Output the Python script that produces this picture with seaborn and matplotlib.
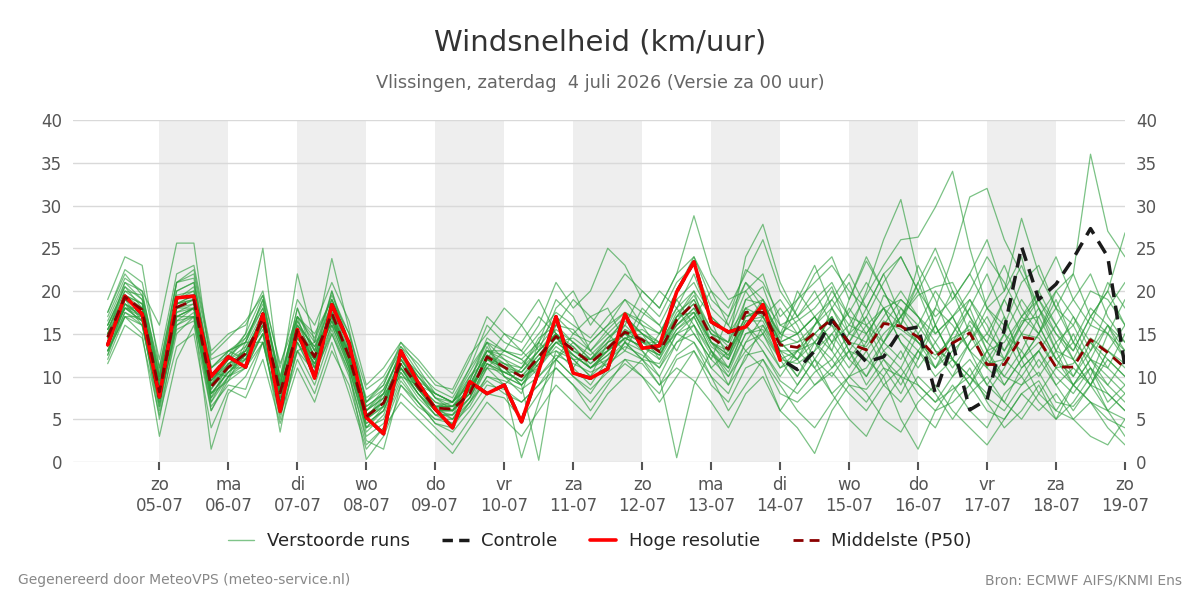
import pandas as pd
import numpy as np
import matplotlib
matplotlib.use("Agg")
import matplotlib.pyplot as plt
from matplotlib.lines import Line2D
import seaborn as sns

# tijdas: 6-uurlijks van za 4 juli 06 uur t/m zo 19 juli 00 uur
tijden = pd.date_range("2026-07-04 06:00", periods=60, freq="6h")

# middelste (P50)
mediaan = [14.6, 19.3, 17.8, 8.2, 18.1, 18.9, 8.8, 11.1, 12.7, 16.8,
           8.1, 15.4, 12.3, 17.4, 12.3, 5.3, 6.9, 11.6, 8.8, 6.3,
           6.2, 8.0, 12.3, 11.1, 10.0, 12.3, 14.7, 13.1, 11.6, 13.3,
           15.2, 14.3, 12.9, 16.6, 18.6, 14.6, 13.2, 17.5, 17.5, 13.7,
           13.4, 15.1, 16.7, 13.9, 13.1, 16.2, 15.9, 14.6, 12.3, 13.9,
           15.1, 11.4, 11.4, 14.6, 14.3, 11.1, 11.1, 14.3, 12.8, 11.0]

# hoge resolutie (loopt tot 14-07)
hoge_res = [13.7, 19.4, 17.3, 7.6, 19.2, 19.4, 10.0, 12.3, 11.1, 17.3,
            5.9, 15.5, 9.8, 18.4, 13.9, 5.2, 3.3, 13.0, 9.3, 6.2,
            4.0, 9.4, 8.0, 9.0, 4.7, 10.7, 17.0, 10.4, 9.8, 10.9,
            17.3, 13.3, 13.6, 19.9, 23.4, 16.4, 15.2, 15.8, 18.4, 11.9]

# controle run
controle = [13.7, 19.4, 17.3, 7.6, 19.2, 19.4, 10.0, 12.3, 11.1, 17.3,
            5.9, 15.5, 9.8, 18.4, 13.9, 5.2, 3.3, 13.0, 9.3, 6.2,
            4.0, 9.4, 8.0, 9.0, 4.7, 10.7, 17.0, 10.4, 9.8, 10.9,
            17.3, 13.3, 13.6, 19.9, 23.4, 16.4, 15.2, 15.8, 18.4, 12.1,
            10.8, 13.0, 16.6, 13.9, 11.7, 12.3, 15.4, 15.8, 8.0, 13.9,
            6.1, 7.3, 15.5, 25.2, 19.0, 20.8, 23.8, 27.3, 24.0, 11.1]

# verstoorde runs (geschat uit de grafiek)
run01 = [16.5, 21.0, 20.0, 16.0, 25.6, 25.6, 11.0, 12.5, 15.0, 19.5,
         9.0, 17.0, 14.0, 19.5, 15.0, 7.0, 8.5, 12.5, 9.5, 8.0,
         7.0, 10.5, 14.0, 12.0, 11.0, 14.5, 16.0, 15.5, 13.0, 15.5,
         17.5, 16.0, 15.0, 18.0, 22.0, 16.5, 12.0, 19.0, 20.5, 15.0,
         16.5, 18.0, 20.5, 15.0, 14.0, 19.5, 18.0, 16.0, 13.0, 12.0,
         16.5, 14.0, 12.0, 16.5, 17.0, 13.0, 12.0, 16.0, 15.0, 12.0]
run02 = [12.0, 17.0, 15.0, 3.0, 12.0, 16.0, 6.0, 10.0, 11.0, 14.0,
         6.0, 13.0, 10.5, 15.0, 10.0, 3.0, 4.5, 9.5, 7.0, 4.5,
         3.5, 6.0, 9.0, 8.5, 7.0, 9.0, 12.0, 10.0, 8.5, 10.5,
         12.0, 11.5, 9.0, 12.5, 14.0, 10.0, 8.0, 12.5, 13.0, 9.5,
         8.0, 10.5, 12.0, 9.0, 8.5, 11.0, 10.0, 9.0, 7.0, 8.5,
         10.0, 7.5, 6.0, 9.0, 10.5, 7.0, 6.5, 9.0, 8.0, 6.0]
run03 = [19.0, 24.0, 23.0, 11.0, 21.0, 22.0, 12.0, 13.0, 14.0, 19.0,
         9.0, 18.0, 13.0, 20.0, 14.0, 6.0, 8.0, 13.0, 10.0, 7.5,
         6.5, 9.5, 14.5, 13.0, 12.5, 15.0, 17.5, 16.0, 14.5, 17.0,
         19.0, 17.5, 16.0, 20.0, 24.0, 19.0, 17.0, 22.5, 21.0, 17.0,
         19.0, 21.0, 23.0, 20.0, 18.0, 22.0, 24.0, 20.0, 17.0, 19.0,
         22.0, 18.0, 16.0, 21.0, 23.0, 18.0, 16.0, 20.0, 19.0, 16.0]
run04 = [15.0, 18.5, 17.0, 9.0, 19.5, 20.0, 9.5, 12.0, 13.5, 17.5,
         8.0, 16.0, 13.5, 17.0, 13.0, 5.0, 7.5, 12.0, 9.0, 6.0,
         5.5, 9.0, 13.0, 11.5, 10.5, 13.0, 15.5, 14.0, 12.0, 14.5,
         16.0, 20.0, 18.0, 22.0, 28.8, 22.0, 19.0, 20.0, 17.0, 14.0,
         12.0, 15.0, 13.0, 10.0, 11.0, 14.0, 17.0, 19.5, 20.5, 21.0,
         17.0, 13.0, 9.0, 12.0, 15.0, 18.0, 14.0, 12.0, 10.0, 8.0]
run05 = [14.0, 19.0, 18.0, 8.0, 18.0, 19.0, 9.0, 11.0, 12.0, 16.0,
         8.5, 15.0, 12.0, 17.0, 12.0, 5.5, 7.0, 11.0, 8.5, 6.5,
         6.0, 8.5, 12.0, 11.0, 9.0, 11.5, 14.0, 13.5, 11.0, 12.0,
         15.5, 14.0, 13.0, 17.0, 17.5, 14.0, 11.0, 16.0, 18.0, 14.0,
         15.0, 17.0, 14.0, 16.0, 19.5, 23.0, 26.0, 26.3, 29.8, 34.0,
         25.0, 18.0, 20.0, 24.0, 16.0, 12.0, 9.0, 7.0, 5.0, 4.0]
run06 = [13.0, 18.0, 16.5, 7.5, 17.5, 18.0, 8.0, 10.5, 12.5, 15.5,
         7.5, 14.5, 11.5, 16.5, 11.5, 4.5, 6.0, 11.0, 8.0, 6.0,
         5.0, 7.5, 11.0, 10.5, 9.5, 12.0, 14.5, 12.5, 11.0, 13.0,
         14.5, 13.5, 12.0, 15.5, 17.0, 13.0, 10.5, 15.0, 16.0, 12.0,
         11.5, 13.0, 15.0, 17.5, 21.0, 18.0, 14.0, 12.0, 18.0, 24.0,
         31.0, 32.0, 26.0, 22.0, 18.0, 15.0, 12.0, 9.0, 6.0, 8.0]
run07 = [15.5, 20.0, 18.5, 9.0, 18.5, 19.5, 9.0, 12.0, 13.0, 17.0,
         8.5, 16.0, 12.5, 18.0, 13.0, 6.0, 7.5, 12.0, 9.0, 7.0,
         6.5, 8.0, 12.0, 11.5, 11.0, 13.0, 15.0, 13.0, 12.0, 14.0,
         15.0, 15.5, 14.0, 16.0, 18.0, 15.0, 14.0, 18.0, 17.0, 13.0,
         13.0, 14.0, 16.0, 12.0, 10.0, 13.0, 15.0, 13.0, 11.0, 14.0,
         16.0, 12.0, 10.0, 13.0, 17.0, 20.0, 22.0, 36.0, 27.0, 24.0]
run08 = [14.0, 18.0, 17.0, 7.0, 17.0, 18.0, 7.0, 10.0, 12.0, 17.5,
         7.0, 15.0, 12.0, 17.5, 12.5, 4.0, 6.5, 12.0, 9.5, 6.5,
         7.0, 9.0, 13.0, 12.0, 10.0, 11.0, 14.0, 14.5, 13.0, 15.0,
         17.0, 15.0, 13.5, 17.5, 19.0, 15.5, 14.0, 19.0, 18.5, 15.0,
         14.0, 16.0, 18.0, 15.0, 20.0, 26.0, 30.7, 22.0, 16.0, 12.0,
         10.0, 8.0, 11.0, 15.0, 18.0, 14.0, 10.0, 13.0, 16.0, 14.0]
run09 = [12.5, 17.5, 16.0, 6.0, 15.0, 17.0, 1.5, 8.0, 10.0, 14.0,
         5.0, 13.0, 9.0, 15.0, 10.5, 0.3, 3.0, 8.0, 6.0, 4.0,
         2.0, 5.0, 8.0, 7.5, 5.0, 8.0, 11.0, 9.0, 7.0, 9.5,
         11.5, 10.0, 8.0, 12.0, 13.0, 9.0, 7.0, 11.0, 12.0, 8.0,
         7.0, 9.0, 10.5, 8.0, 6.0, 9.0, 11.0, 8.0, 6.0, 7.0,
         9.0, 6.0, 5.0, 8.0, 9.5, 6.0, 5.0, 7.0, 6.0, 5.0]
run10 = [17.0, 21.5, 20.0, 10.0, 20.0, 21.0, 10.0, 12.0, 15.0, 25.0,
         9.5, 22.0, 14.0, 23.8, 15.5, 7.0, 9.0, 14.0, 11.0, 8.0,
         7.0, 9.5, 14.0, 13.0, 12.0, 14.0, 17.0, 15.0, 14.0, 16.0,
         17.5, 16.5, 15.0, 19.0, 21.0, 17.0, 15.0, 20.0, 22.0, 16.0,
         15.0, 17.0, 19.0, 16.0, 15.0, 18.0, 16.0, 14.0, 12.0, 15.0,
         18.0, 13.0, 14.0, 17.0, 15.0, 12.0, 14.0, 18.0, 16.0, 12.0]
run11 = [13.5, 18.5, 17.5, 6.5, 16.5, 18.0, 7.0, 11.0, 11.0, 15.0,
         6.5, 14.0, 10.0, 16.0, 11.0, 3.5, 5.5, 10.5, 7.5, 5.5,
         4.5, 7.0, 11.0, 9.0, 0.5, 7.0, 13.0, 11.0, 9.0, 12.0,
         14.0, 12.0, 10.0, 14.0, 16.0, 11.0, 9.0, 14.0, 15.0, 11.0,
         12.0, 9.0, 11.0, 14.0, 12.0, 10.0, 13.0, 9.0, 7.0, 10.0,
         12.0, 9.0, 7.0, 11.0, 13.0, 10.0, 8.0, 11.0, 9.0, 7.0]
run12 = [15.0, 19.5, 18.0, 8.5, 18.5, 19.0, 8.5, 11.5, 13.0, 16.5,
         8.0, 15.5, 12.0, 17.0, 12.0, 5.0, 7.0, 11.5, 8.5, 6.0,
         6.0, 8.0, 12.5, 11.0, 9.0, 0.2, 12.0, 14.0, 12.0, 14.0,
         15.0, 13.0, 10.0, 0.5, 9.0, 13.0, 11.0, 16.0, 14.0, 11.0,
         13.0, 15.0, 17.0, 13.0, 12.0, 15.0, 17.0, 14.0, 11.0, 13.0,
         15.0, 11.0, 9.0, 12.0, 14.0, 11.0, 9.0, 12.0, 11.0, 9.0]
run13 = [14.5, 19.0, 17.5, 8.0, 18.0, 18.5, 9.0, 11.0, 12.5, 17.0,
         8.0, 15.0, 12.5, 17.5, 12.0, 5.5, 7.0, 11.5, 9.0, 6.5,
         6.5, 8.5, 12.5, 11.5, 10.0, 12.5, 15.0, 13.5, 11.5, 13.5,
         15.5, 14.5, 13.0, 16.5, 19.0, 15.0, 14.0, 24.0, 27.8, 21.0,
         17.0, 14.0, 12.0, 15.0, 17.0, 13.0, 11.0, 15.0, 18.0, 16.0,
         13.0, 11.0, 15.0, 19.0, 16.0, 12.0, 10.0, 14.0, 12.0, 10.0]
run14 = [13.0, 17.0, 16.0, 7.0, 16.0, 17.0, 7.5, 10.0, 11.5, 15.0,
         7.0, 14.0, 11.0, 16.0, 11.0, 4.0, 6.0, 10.5, 8.0, 5.5,
         5.5, 7.5, 11.5, 10.0, 9.0, 11.0, 13.5, 12.0, 10.0, 12.0,
         13.5, 12.5, 11.0, 14.0, 15.0, 12.0, 10.0, 13.0, 11.0, 6.0,
         4.0, 1.0, 6.0, 9.0, 7.0, 10.0, 5.0, 1.5, 6.0, 9.0,
         6.0, 4.0, 8.0, 10.0, 7.0, 5.0, 9.0, 7.0, 4.0, 2.0]
run15 = [16.0, 20.5, 19.0, 9.5, 19.0, 20.0, 10.0, 12.5, 14.0, 18.0,
         9.0, 16.5, 13.0, 18.5, 13.5, 6.5, 8.0, 12.5, 10.0, 7.5,
         7.0, 9.0, 13.0, 12.5, 11.5, 13.5, 16.0, 14.0, 12.5, 14.5,
         16.5, 15.0, 14.0, 17.0, 19.5, 15.5, 13.5, 18.0, 19.0, 14.5,
         18.0, 22.0, 24.0, 19.0, 23.5, 20.0, 16.0, 21.0, 25.0, 20.0,
         15.0, 19.0, 23.0, 18.0, 15.0, 20.0, 17.0, 13.0, 18.0, 21.0]
run16 = [14.0, 18.5, 17.0, 8.5, 17.5, 18.5, 8.0, 10.5, 12.0, 16.0,
         8.0, 15.0, 11.5, 17.0, 11.5, 5.0, 6.5, 11.0, 8.0, 6.0,
         6.0, 8.0, 12.0, 10.5, 9.5, 12.0, 14.0, 12.5, 11.0, 12.5,
         14.5, 13.5, 12.5, 15.5, 17.5, 13.5, 12.0, 16.5, 16.5, 12.5,
         10.0, 13.0, 18.0, 21.0, 16.0, 12.0, 9.0, 13.0, 16.0, 12.0,
         9.0, 13.0, 17.0, 12.0, 8.0, 11.0, 15.0, 11.0, 7.0, 9.0]
run17 = [15.0, 19.0, 18.0, 9.0, 18.5, 19.5, 9.5, 11.5, 13.0, 17.0,
         8.5, 15.5, 12.5, 17.5, 12.5, 5.5, 7.0, 12.0, 9.0, 6.5,
         6.5, 8.5, 12.0, 11.0, 10.5, 12.5, 15.0, 13.0, 12.0, 13.5,
         15.0, 14.0, 13.5, 17.0, 18.5, 15.0, 13.0, 17.0, 18.0, 14.0,
         15.0, 17.0, 14.0, 11.0, 14.0, 17.0, 20.0, 17.0, 13.0, 10.0,
         14.0, 18.0, 15.0, 11.0, 13.0, 16.0, 12.0, 9.0, 13.0, 16.0]
run18 = [13.0, 17.5, 16.5, 5.0, 16.0, 17.5, 6.0, 9.5, 11.0, 15.0,
         3.5, 14.0, 10.0, 15.5, 10.5, 2.5, 1.5, 9.0, 7.0, 4.5,
         4.0, 7.0, 10.0, 9.5, 8.5, 10.0, 12.5, 11.5, 10.5, 11.5,
         13.0, 12.0, 11.5, 15.0, 16.0, 12.5, 11.0, 15.0, 15.5, 12.0,
         13.0, 11.0, 8.0, 10.0, 13.0, 9.0, 7.0, 10.0, 8.0, 5.0,
         8.0, 10.0, 7.0, 5.0, 8.0, 6.0, 9.0, 11.0, 8.0, 6.0]
run19 = [16.0, 20.0, 19.5, 10.5, 20.0, 21.0, 11.0, 13.0, 14.5, 18.5,
         10.0, 17.0, 14.5, 19.0, 14.0, 7.5, 9.0, 13.5, 10.5, 8.5,
         7.5, 11.0, 16.0, 14.0, 13.0, 16.0, 21.0, 18.0, 20.0, 25.0,
         23.0, 19.0, 17.0, 21.0, 23.0, 18.0, 16.0, 21.0, 19.0, 16.0,
         17.0, 19.0, 21.0, 17.0, 16.0, 18.0, 19.0, 17.0, 15.0, 17.0,
         19.0, 15.0, 13.0, 17.0, 19.0, 15.0, 13.0, 17.0, 15.0, 13.0]
run20 = [15.5, 19.5, 18.5, 8.0, 18.0, 19.0, 8.5, 11.0, 13.0, 17.0,
         8.0, 15.0, 12.0, 17.0, 12.5, 5.0, 6.5, 11.5, 8.5, 6.0,
         6.0, 8.0, 12.5, 11.0, 10.0, 12.0, 14.5, 13.0, 11.5, 13.0,
         15.0, 14.0, 12.5, 16.5, 18.5, 14.0, 13.0, 17.0, 17.5, 13.5,
         14.0, 15.0, 17.0, 14.0, 13.5, 16.5, 15.5, 14.0, 12.5, 14.5,
         15.5, 11.5, 12.0, 15.0, 14.5, 11.0, 11.5, 14.5, 13.0, 11.5]
run21 = [14.5, 18.0, 17.5, 8.5, 17.0, 18.0, 9.0, 11.5, 12.0, 16.5,
         8.5, 14.5, 12.0, 16.5, 12.0, 6.0, 7.5, 11.0, 9.0, 6.5,
         6.5, 8.5, 11.5, 10.5, 10.5, 13.0, 15.0, 12.5, 11.0, 13.0,
         14.5, 15.0, 13.5, 16.0, 18.0, 14.0, 12.5, 17.0, 18.0, 15.0,
         19.0, 23.0, 18.0, 14.0, 18.0, 22.0, 17.0, 20.0, 24.0, 19.0,
         22.0, 26.0, 20.0, 28.5, 22.0, 18.0, 22.0, 17.0, 20.0, 26.8]
run22 = [13.5, 18.0, 16.5, 7.5, 17.0, 18.0, 8.0, 10.5, 12.5, 16.0,
         7.5, 14.5, 11.5, 16.5, 11.5, 4.5, 6.0, 11.0, 8.0, 5.5,
         5.5, 7.5, 11.5, 10.5, 9.5, 11.5, 14.0, 12.5, 11.0, 12.5,
         14.5, 13.5, 12.5, 16.0, 17.5, 14.0, 12.5, 16.5, 17.0, 13.0,
         12.0, 14.0, 11.0, 13.0, 9.0, 12.0, 10.0, 13.0, 10.0, 12.0,
         10.0, 13.0, 10.0, 9.0, 12.0, 9.0, 11.0, 9.0, 12.0, 10.0]
run23 = [17.5, 22.5, 21.0, 12.0, 22.0, 23.0, 13.0, 15.0, 16.0, 20.0,
         11.0, 19.0, 16.0, 21.0, 16.5, 9.0, 11.0, 14.0, 12.0, 9.5,
         8.0, 12.0, 17.0, 15.0, 13.0, 11.0, 16.0, 19.0, 17.0, 15.0,
         13.0, 17.0, 20.0, 18.0, 15.0, 12.0, 17.0, 21.0, 18.0, 14.0,
         20.0, 17.0, 13.0, 19.0, 24.0, 20.0, 16.0, 23.0, 19.0, 14.0,
         18.0, 22.0, 17.0, 12.0, 15.0, 19.0, 14.0, 10.0, 15.0, 19.0]
run24 = [11.5, 16.0, 14.5, 5.5, 13.5, 15.0, 4.0, 8.5, 7.5, 12.0,
         4.5, 11.0, 7.0, 13.0, 9.0, 2.0, 4.0, 7.0, 5.0, 3.0,
         1.0, 4.0, 7.0, 5.0, 3.0, 6.0, 9.0, 7.0, 5.0, 8.0,
         10.0, 12.0, 9.0, 11.0, 9.5, 7.0, 4.0, 8.0, 10.0, 6.0,
         9.0, 12.0, 8.0, 5.0, 3.0, 7.0, 10.0, 6.0, 4.0, 8.0,
         11.0, 7.0, 4.0, 6.0, 9.0, 5.0, 7.0, 10.0, 6.0, 3.0]
run25 = [16.0, 20.5, 18.0, 9.5, 19.0, 20.5, 11.0, 13.0, 12.0, 15.0,
         9.5, 17.0, 11.0, 19.0, 14.0, 7.0, 9.5, 13.0, 10.0, 8.0,
         7.0, 11.0, 14.0, 10.0, 8.0, 14.0, 19.0, 17.0, 13.0, 11.0,
         14.0, 18.0, 16.0, 13.0, 17.0, 20.0, 16.0, 13.0, 15.0, 18.0,
         15.0, 11.0, 14.0, 18.0, 15.0, 11.0, 8.0, 12.0, 16.0, 20.0,
         17.0, 14.0, 19.0, 23.0, 18.0, 13.0, 9.0, 12.0, 16.0, 13.0]
run26 = [13.0, 17.0, 17.0, 9.5, 17.0, 17.0, 9.0, 13.0, 14.0, 14.0,
         8.0, 13.0, 14.0, 16.0, 13.0, 6.5, 8.0, 10.0, 9.0, 8.0,
         7.0, 10.0, 13.0, 13.0, 12.0, 10.0, 12.0, 15.0, 17.0, 18.0,
         14.0, 12.0, 15.0, 19.0, 16.0, 13.0, 10.0, 14.0, 17.0, 19.0,
         16.0, 12.0, 10.0, 13.0, 16.0, 14.0, 12.0, 16.0, 20.0, 17.0,
         13.0, 9.0, 12.0, 16.0, 19.0, 16.0, 19.0, 22.0, 17.0, 14.0]
run27 = [15.0, 21.0, 19.0, 10.0, 21.0, 21.5, 10.5, 10.0, 14.0, 19.0,
         9.0, 18.0, 12.0, 20.0, 13.0, 5.0, 8.0, 13.0, 9.0, 7.0,
         6.0, 10.0, 12.0, 15.0, 14.0, 17.0, 15.0, 11.0, 14.0, 16.0,
         19.0, 16.0, 13.0, 15.0, 17.0, 13.0, 9.0, 12.0, 16.0, 13.0,
         10.0, 14.0, 17.0, 13.0, 10.0, 14.0, 18.0, 15.0, 11.0, 15.0,
         19.0, 16.0, 12.0, 10.0, 13.0, 9.0, 6.0, 9.0, 13.0, 11.0]
run28 = [12.5, 18.5, 16.0, 6.5, 16.5, 17.0, 6.5, 9.0, 8.5, 14.0,
         5.5, 12.0, 8.0, 14.0, 8.0, 1.5, 4.0, 9.0, 6.5, 5.0,
         5.0, 7.0, 9.5, 8.0, 7.0, 9.0, 11.0, 9.0, 6.0, 9.0,
         12.0, 10.0, 7.0, 10.0, 13.0, 10.0, 6.0, 9.0, 12.0, 9.0,
         6.0, 4.0, 7.0, 10.0, 8.0, 5.0, 3.5, 7.0, 9.0, 6.0,
         4.0, 2.0, 5.0, 8.0, 6.0, 8.0, 5.0, 3.0, 2.0, 5.0]
run29 = [17.5, 22.0, 19.5, 11.0, 21.0, 22.5, 12.5, 14.5, 16.5, 19.5,
         11.5, 17.0, 15.0, 19.0, 15.0, 8.5, 10.0, 13.5, 11.5, 9.0,
         8.5, 12.5, 15.0, 18.0, 16.0, 13.0, 18.0, 20.0, 16.0, 19.0,
         22.0, 20.0, 18.0, 22.0, 24.0, 20.0, 18.0, 22.0, 26.0, 20.0,
         17.0, 20.0, 16.0, 14.0, 17.0, 21.0, 24.0, 20.0, 15.0, 17.0,
         20.0, 24.0, 21.0, 17.0, 20.0, 24.0, 19.0, 16.0, 21.0, 18.0]
run30 = [14.0, 18.0, 18.0, 7.5, 15.5, 16.5, 8.0, 9.5, 13.5, 16.0,
         8.0, 16.5, 13.0, 17.0, 11.0, 4.0, 5.0, 10.0, 7.0, 5.0,
         4.5, 6.5, 10.0, 9.0, 11.0, 14.0, 12.0, 10.0, 8.0, 11.0,
         14.0, 13.0, 11.0, 15.0, 14.0, 11.0, 13.0, 16.0, 13.0, 10.0,
         13.0, 16.0, 19.0, 22.0, 18.0, 14.0, 17.0, 21.0, 16.0, 12.0,
         9.0, 12.0, 15.0, 13.0, 10.0, 13.0, 17.0, 14.0, 11.0, 15.0]
run31 = [15.5, 19.5, 18.5, 10.0, 18.0, 18.0, 9.5, 12.0, 14.5, 18.0,
         10.0, 16.0, 13.5, 18.5, 13.5, 6.0, 8.5, 12.5, 10.5, 7.5,
         6.0, 9.0, 11.0, 13.0, 16.0, 19.0, 15.0, 12.0, 10.0, 14.0,
         17.0, 15.0, 12.0, 17.0, 20.0, 17.0, 15.0, 18.0, 15.0, 12.0,
         9.0, 12.0, 15.0, 12.0, 15.0, 18.0, 14.0, 11.0, 14.0, 17.0,
         13.0, 15.0, 19.0, 15.0, 11.0, 14.0, 16.0, 12.0, 9.0, 12.0]
run32 = [14.5, 19.0, 16.5, 8.5, 18.5, 19.0, 7.5, 11.5, 12.5, 17.5,
         7.0, 15.5, 11.0, 18.0, 12.5, 5.5, 6.5, 12.5, 8.5, 6.5,
         5.0, 8.5, 13.5, 10.0, 9.0, 12.0, 13.0, 12.0, 12.0, 13.0,
         16.0, 14.0, 14.0, 18.0, 20.0, 14.0, 12.0, 16.0, 19.0, 14.0,
         12.0, 16.0, 20.0, 17.0, 13.0, 16.0, 19.0, 17.0, 14.0, 11.0,
         14.0, 17.0, 13.0, 16.0, 20.0, 16.0, 13.0, 17.0, 20.0, 16.0]

runs = [run01, run02, run03, run04, run05, run06, run07, run08, run09, run10, run11,
        run12, run13, run14, run15, run16, run17, run18, run19, run20, run21, run22,
        run23, run24, run25, run26, run27, run28, run29, run30, run31, run32]

dagnamen = ["zo", "ma", "di", "wo", "do", "vr", "za"]

# long-form tabel voor seaborn
rows = []
for k, r in enumerate(runs):
    for t, v in zip(tijden, r):
        rows.append((t, v, k))
df_runs = pd.DataFrame(rows, columns=["tijd", "wind", "run"])

sns.set_style("white")
plt.rcParams['font.family'] = ['DejaVu Sans']

fig = plt.figure(figsize=(12, 6), dpi=100)
ax = fig.add_axes([0.061, 0.23, 0.8765, 0.57])

# grijze banden om de dag
dagen = pd.date_range("2026-07-05", "2026-07-19", freq="D")
for d in dagen[::2]:
    if d < dagen[-1]:
        ax.axvspan(d, d + pd.Timedelta(days=1), color="#eeeeee", zorder=0, lw=0)

groen = "#2a9d3a"
sns.lineplot(data=df_runs, x="tijd", y="wind", units="run", estimator=None,
             color=groen, alpha=0.62, lw=0.9, ax=ax, legend=False, zorder=2)
sns.lineplot(x=tijden, y=controle, color="#1a1a1a", lw=2.5, ls=(0, (4, 2.5)),
             ax=ax, legend=False, zorder=3)
sns.lineplot(x=tijden[:len(hoge_res)], y=hoge_res, color="#ff0000", lw=2.6,
             ax=ax, legend=False, zorder=4)
sns.lineplot(x=tijden, y=mediaan, color="#8b0000", lw=2.0, ls=(0, (4, 2.5)),
             ax=ax, legend=False, zorder=5)

ax.set_ylim(0, 40)
ax.set_yticks(range(0, 41, 5))
ax.set_xlim(pd.Timestamp("2026-07-03 18:00"), pd.Timestamp("2026-07-19 00:00"))
ax.set_xticks(dagen)
ax.set_xticklabels([f"{dagnamen[i % 7]}\n{d.strftime('%d-%m')}" for i, d in enumerate(dagen)])
ax.grid(axis="y", color="#d9d9d9", lw=1)
ax.grid(axis="x", visible=False)
for s in ax.spines.values():
    s.set_visible(False)
ax.tick_params(axis="x", colors="#555555", labelsize=12, length=6, width=1.5,
               bottom=True, direction="out", pad=4)
ax.tick_params(axis="y", labelcolor="#555555", labelsize=12, length=0,
               labelleft=True, labelright=True, pad=8)
ax.set_xlabel("")
ax.set_ylabel("")

fig.text(0.5, 0.93, "Windsnelheid (km/uur)", ha="center", va="center",
         fontsize=21, color="#333333")
fig.text(0.5, 0.861, "Vlissingen, zaterdag  4 juli 2026 (Versie za 00 uur)",
         ha="center", va="center", fontsize=12.8, color="#666666")

handles = [
    Line2D([], [], color=groen, alpha=0.6, lw=1),
    Line2D([], [], color="#1a1a1a", lw=2.5, ls=(0, (3, 1.8))),
    Line2D([], [], color="#ff0000", lw=2.6),
    Line2D([], [], color="#8b0000", lw=2.0, ls=(0, (3.6, 2.2))),
]
labels = ["Verstoorde runs", "Controle", "Hoge resolutie", "Middelste (P50)"]
fig.legend(handles, labels, loc="center", bbox_to_anchor=(0.5, 0.098), ncol=4,
           frameon=False, fontsize=13, handlelength=1.45, handletextpad=0.7,
           columnspacing=1.8)

fig.text(0.015, 0.033, "Gegenereerd door MeteoVPS (meteo-service.nl)", ha="left",
         va="center", fontsize=10, color="#888888")
fig.text(0.985, 0.033, "Bron: ECMWF AIFS/KNMI Ens", ha="right", va="center",
         fontsize=10, color="#888888")

fig.savefig("out.png", dpi=100)
